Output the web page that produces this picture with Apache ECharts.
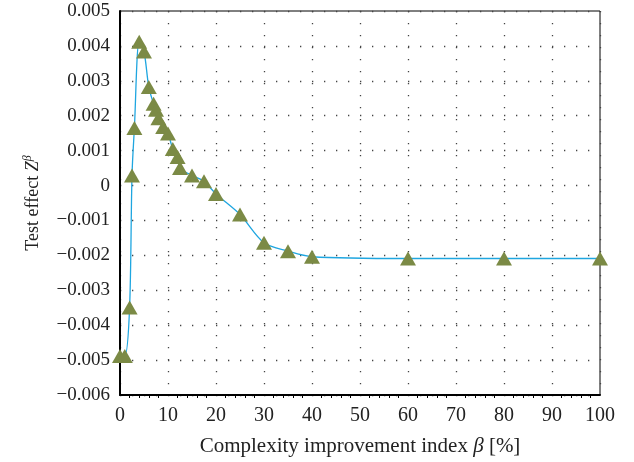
<!DOCTYPE html>
<html>
<head>
<meta charset="utf-8">
<script src="https://cdn.jsdelivr.net/npm/echarts@6/dist/echarts.min.js"></script>
<style>
  html, body { margin: 0; padding: 0; background: #fff; }
  #chart { width: 634px; height: 462px; }
</style>
</head>
<body>
<div id="chart"></div>
<script>
// complexity improvement index beta [%]
var beta = [0, 1, 2, 2.5, 3, 4, 5, 6, 7, 7.5, 8, 9, 10, 11, 12, 12.5, 15, 17.5, 20, 25, 30, 35, 40, 60, 80, 100];
// test effect Z^beta
var effect = [-0.00488, -0.00488, -0.00349, 0.00029, 0.00165, 0.00412, 0.00384, 0.00282, 0.00234, 0.00217, 0.00193, 0.00168, 0.00149,
  0.00105, 0.00082, 0.00050, 0.00029, 0.00012, -0.00024, -0.00083, -0.00164, -0.00188, -0.00204, -0.00209, -0.00209, -0.00209];

var xTicks = { min: 0, max: 100, interval: 10 };
var yTicks = { min: -0.006, max: 0.005, interval: 0.001 };

var serif = "'Liberation Serif', 'DejaVu Serif', serif";

var points = [];
for (var i = 0; i < beta.length; i++) {
  points.push([beta[i], effect[i]]);
}

function fmtY(v) {
  var r = Math.round(v * 1000) / 1000;
  if (r === 0) return "0";
  var s = Math.abs(r).toFixed(3);
  return r < 0 ? "\u2212" + s : s;
}

var dotted = { type: [1.3, 10.7], color: "#444", width: 1.3 };

var chart = echarts.init(document.getElementById("chart"));
chart.setOption({
  animation: false,
  grid: {
    left: 120,
    right: 34,
    top: 11,
    bottom: 66,
    show: true,
    borderColor: "#000",
    borderWidth: 1
  },
  xAxis: {
    type: "value",
    min: xTicks.min,
    max: xTicks.max,
    interval: xTicks.interval,
    name: "{n|Complexity improvement index }{i|\u03b2}{n| [%]}",
    nameLocation: "middle",
    nameGap: 41,
    nameTextStyle: {
      rich: {
        n: { fontFamily: serif, fontSize: 21, color: "#222" },
        i: { fontFamily: serif, fontSize: 21, fontStyle: "italic", color: "#222" }
      }
    },
    axisLine: { show: true, onZero: false, lineStyle: { color: "#000", width: 2 } },
    axisTick: { show: false },
    minorTick: { show: true, splitNumber: 5, length: 3, lineStyle: { color: "#000", width: 1 } },
    axisLabel: { fontFamily: serif, fontSize: 20, color: "#222", margin: 11 },
    splitLine: { show: true, lineStyle: dotted }
  },
  yAxis: {
    type: "value",
    min: yTicks.min,
    max: yTicks.max,
    interval: yTicks.interval,
    name: "{n|Test effect }{i|Z}{s|\u03b2}",
    nameLocation: "middle",
    nameRotate: 90,
    nameGap: 76,
    nameTextStyle: {
      rich: {
        n: { fontFamily: serif, fontSize: 18, color: "#222" },
        i: { fontFamily: serif, fontSize: 18, fontStyle: "italic", color: "#222" },
        s: { fontFamily: serif, fontSize: 12, fontStyle: "italic", color: "#222", verticalAlign: "top", padding: [0, 0, 10, 0] }
      }
    },
    axisLine: { show: true, lineStyle: { color: "#000", width: 2 } },
    axisTick: { show: false },
    axisLabel: { fontFamily: serif, fontSize: 19, color: "#222", margin: 10, formatter: fmtY },
    splitLine: { show: true, lineStyle: dotted }
  },
  series: [{
    type: "line",
    data: points,
    smooth: 0.3,
    symbol: "triangle",
    symbolSize: [16, 14],
    lineStyle: { color: "#1fa6e0", width: 1.3 },
    itemStyle: { color: "#7b8a45", borderWidth: 0 },
    z: 3
  }]
});
</script>
</body>
</html>
